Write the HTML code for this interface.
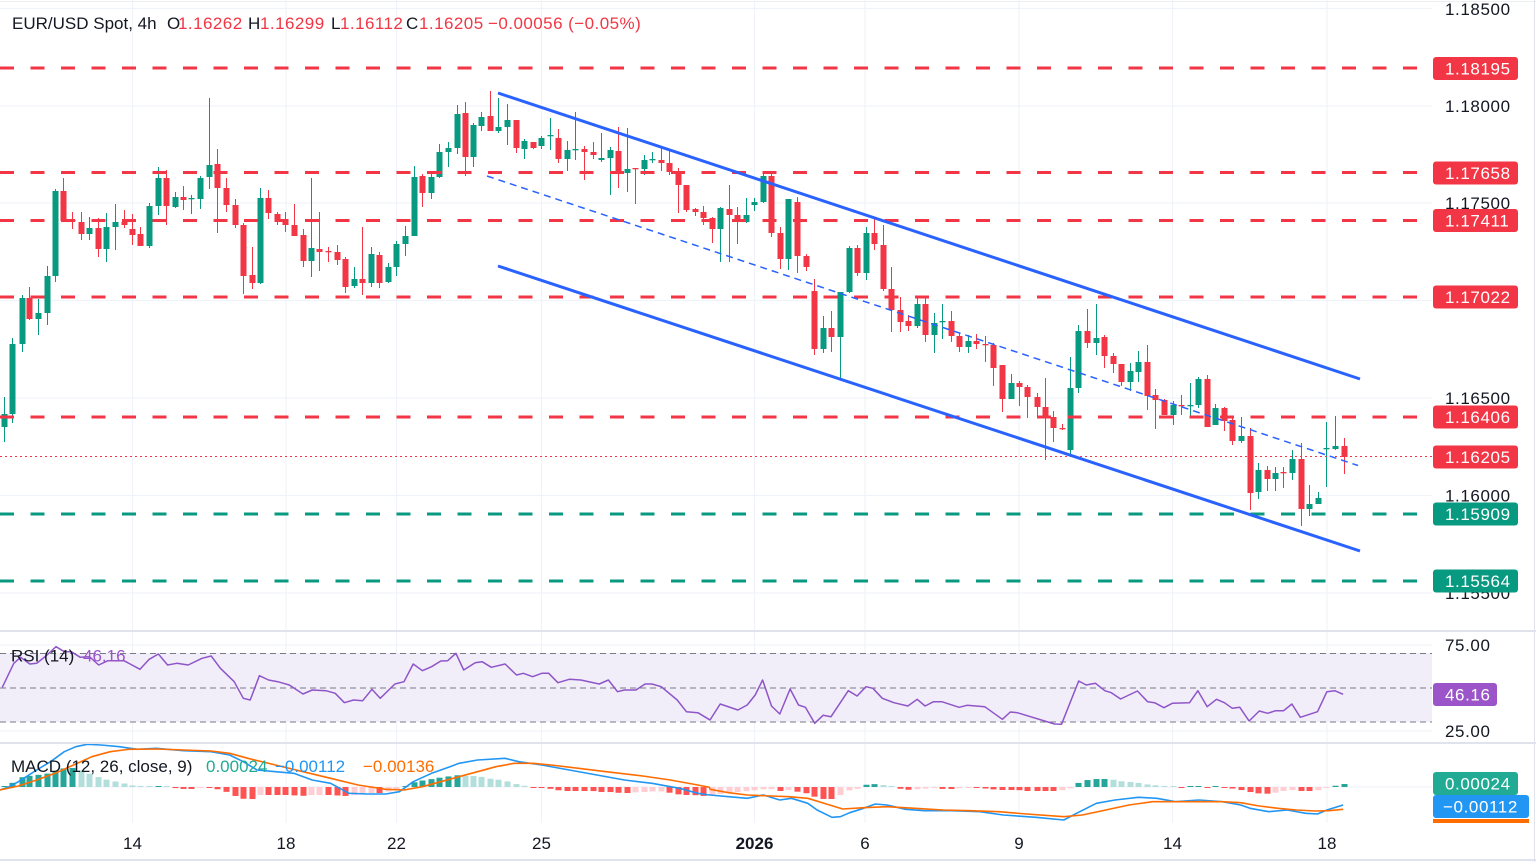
<!DOCTYPE html>
<html><head><meta charset="utf-8"><style>
html,body{margin:0;padding:0;background:#fff;}
svg{display:block;font-family:"Liberation Sans",Arial,sans-serif;}
</style></head><body>
<svg id="s" width="1536" height="862" viewBox="0 0 1536 862" xmlns="http://www.w3.org/2000/svg">
<rect width="1536" height="862" fill="#fff"/>
<line x1="0" y1="1.5" x2="1536" y2="1.5" stroke="#eceef2" stroke-width="1"/>
<!-- grid -->
<g stroke="#f0f3fa" stroke-width="1.2">
<line x1="0" y1="8.5" x2="1432" y2="8.5"/><line x1="0" y1="106" x2="1432" y2="106"/><line x1="0" y1="203" x2="1432" y2="203"/><line x1="0" y1="300.5" x2="1432" y2="300.5"/><line x1="0" y1="398" x2="1432" y2="398"/><line x1="0" y1="495.5" x2="1432" y2="495.5"/><line x1="0" y1="593" x2="1432" y2="593"/>
<line x1="0" y1="645" x2="1432" y2="645"/><line x1="0" y1="731" x2="1432" y2="731"/><line x1="0" y1="787" x2="1432" y2="787"/>
<line x1="132.5" y1="0" x2="132.5" y2="823"/><line x1="286" y1="0" x2="286" y2="823"/><line x1="396.5" y1="0" x2="396.5" y2="823"/><line x1="541.5" y1="0" x2="541.5" y2="823"/><line x1="754.5" y1="0" x2="754.5" y2="823"/><line x1="865" y1="0" x2="865" y2="823"/><line x1="1019" y1="0" x2="1019" y2="823"/><line x1="1172.5" y1="0" x2="1172.5" y2="823"/><line x1="1327" y1="0" x2="1327" y2="823"/>
</g>
<!-- RSI band -->
<rect x="0" y="653" width="1432" height="69" fill="#f2eef9"/>
<g stroke="#787b86" stroke-width="1" stroke-dasharray="6,4">
<line x1="0" y1="653.5" x2="1432" y2="653.5"/><line x1="0" y1="688" x2="1432" y2="688"/><line x1="0" y1="722" x2="1432" y2="722"/>
</g>
<g id="hist"></g>
<g id="candles"></g>
<polyline id="rsi" fill="none" stroke="#8e55c8" stroke-width="1.5" stroke-linejoin="round"/>
<polyline id="macdB" fill="none" stroke="#2196f3" stroke-width="1.6" stroke-linejoin="round"/>
<polyline id="macdO" fill="none" stroke="#ff6d00" stroke-width="1.6" stroke-linejoin="round"/>
<!-- level lines -->
<g stroke-width="3" stroke-dasharray="14,16.5" fill="none">
<line x1="0" y1="68" x2="1432" y2="68" stroke="#f23645"/>
<line x1="0" y1="172.5" x2="1432" y2="172.5" stroke="#f23645"/>
<line x1="0" y1="220.5" x2="1432" y2="220.5" stroke="#f23645"/>
<line x1="0" y1="297" x2="1432" y2="297" stroke="#f23645"/>
<line x1="0" y1="417" x2="1432" y2="417" stroke="#f23645"/>
<line x1="0" y1="514" x2="1432" y2="514" stroke="#089981"/>
<line x1="0" y1="581" x2="1432" y2="581" stroke="#089981"/>
</g>
<line x1="0" y1="456.5" x2="1432" y2="456.5" stroke="#f23645" stroke-width="1" stroke-dasharray="2,3"/>
<!-- trend lines -->
<line x1="498" y1="93" x2="1360" y2="379" stroke="#2962ff" stroke-width="3"/>
<line x1="498" y1="266" x2="1360" y2="551" stroke="#2962ff" stroke-width="3"/>
<line x1="487" y1="176" x2="1358" y2="465.5" stroke="#2962ff" stroke-width="1.5" stroke-dasharray="7,5"/>
<!-- panel separators -->
<rect x="0" y="630" width="1536" height="2" fill="#e0e3eb"/>
<rect x="0" y="742" width="1536" height="2" fill="#e0e3eb"/>
<rect x="0" y="859" width="1536" height="2" fill="#e0e3eb"/>
<line x1="1534.5" y1="0" x2="1534.5" y2="862" stroke="#e0e3eb" stroke-width="1"/>
<!-- header -->
<text x="12" y="29" font-size="17" fill="#131722">EUR/USD Spot, 4h</text>
<text y="29" font-size="17" fill="#131722"><tspan x="167">O</tspan><tspan x="248">H</tspan><tspan x="331">L</tspan><tspan x="406">C</tspan></text>
<text y="29" font-size="17" fill="#f23645" letter-spacing="0.45"><tspan x="178">1.16262</tspan><tspan x="260">1.16299</tspan><tspan x="340">1.16112</tspan><tspan x="419">1.16205</tspan><tspan x="488">−0.00056 (−0.05%)</tspan></text>
<!-- price axis -->
<g font-size="17" fill="#131722" letter-spacing="0.6">
<text x="1445" y="15">1.18500</text>
<text x="1445" y="112">1.18000</text>
<text x="1445" y="209">1.17500</text>
<text x="1445" y="404">1.16500</text>
<text x="1445" y="501.5">1.16000</text>
<text x="1445" y="599">1.15500</text>
<text x="1445" y="651">75.00</text>
<text x="1445" y="737">25.00</text>
</g>
<g>
<rect x="1433" y="57" width="85" height="23" rx="3" fill="#f23645"/>
<rect x="1433" y="161.5" width="85" height="23" rx="3" fill="#f23645"/>
<rect x="1433" y="209" width="85" height="23" rx="3" fill="#f23645"/>
<rect x="1433" y="285.5" width="85" height="23" rx="3" fill="#f23645"/>
<rect x="1433" y="405.5" width="85" height="23" rx="3" fill="#f23645"/>
<rect x="1433" y="445.5" width="85" height="23" rx="3" fill="#f23645"/>
<rect x="1433" y="502.5" width="85" height="23" rx="3" fill="#089981"/>
<rect x="1433" y="569.5" width="85" height="23" rx="3" fill="#089981"/>
<rect x="1433" y="683" width="64" height="23" rx="3" fill="#9c55c9"/>
<rect x="1433" y="819" width="96" height="4" fill="#ff6d00"/>
<rect x="1433" y="772" width="85" height="23" rx="3" fill="#22ab94"/>
<rect x="1433" y="795" width="96" height="23" rx="3" fill="#2196f3"/>
</g>
<g font-size="17" fill="#fff" letter-spacing="0.6">
<text x="1445" y="74.5">1.18195</text>
<text x="1445" y="179">1.17658</text>
<text x="1445" y="226.5">1.17411</text>
<text x="1445" y="303">1.17022</text>
<text x="1445" y="423">1.16406</text>
<text x="1445" y="463">1.16205</text>
<text x="1445" y="520">1.15909</text>
<text x="1445" y="587">1.15564</text>
<text x="1445" y="700.5">46.16</text>
<text x="1445" y="789.5">0.00024</text>
<text x="1443" y="812.5">−0.00112</text>
</g>
<!-- indicator labels -->
<text x="11" y="661.5" font-size="17" fill="#131722">RSI (14)</text>
<text x="83" y="661.5" font-size="17" fill="#9c55c9">46.16</text>
<text x="11" y="772" font-size="17" fill="#131722">MACD (12, 26, close, 9)</text>
<text x="206" y="772" font-size="17" fill="#22ab94">0.00024</text>
<text x="275" y="772" font-size="17" fill="#2196f3">−0.00112</text>
<text x="363" y="772" font-size="17" fill="#ff6d00">−0.00136</text>
<!-- time axis -->
<g font-size="17" fill="#131722" text-anchor="middle">
<text x="132.5" y="849">14</text>
<text x="286" y="849">18</text>
<text x="396.5" y="849">22</text>
<text x="541.5" y="849">25</text>
<text x="754.5" y="849" font-weight="bold">2026</text>
<text x="865" y="849">6</text>
<text x="1019" y="849">9</text>
<text x="1172.5" y="849">14</text>
<text x="1327" y="849">18</text>
</g>
</svg>
<script>
(function(){
var NS='http://www.w3.org/2000/svg';
function el(p,t,a){var e=document.createElementNS(NS,t);for(var k in a)e.setAttribute(k,a[k]);p.appendChild(e);return e;}
var C=[[4,427,397,442,414],[12,414,338,423,344],[22,344,295,352,298],[29,298,287,320,319],[38,319,299,335,313],[47,313,266,325,276],[55,276,189,282,191],[63,191,178,222,221],[72,220,212,229,221],[81,222,212,240,234],[89,234,217,240,228],[98,228,218,257,249],[106,249,213,262,227],[115,227,204,250,222],[124,222,210,228,225],[132,229,214,245,235],[140,234,227,246,246],[149,246,203,248,206],[158,206,167,215,178],[166,178,170,225,206],[175,207,192,208,197],[183,197,186,210,200],[191,199,195,214,198],[200,199,176,209,178],[209,177,98,189,165],[217,164,149,233,188],[226,188,178,212,205],[235,205,199,228,225],[243,225,223,294,276],[252,275,247,289,283],[260,283,188,284,198],[268,198,190,219,213],[277,214,212,225,221],[285,220,212,232,225],[294,225,204,236,236],[303,235,229,267,261],[311,261,178,277,248],[319,249,212,271,252],[328,251,247,262,252],[337,252,245,265,260],[345,259,257,293,287],[354,286,267,288,279],[362,279,227,295,283],[371,283,247,287,254],[379,255,252,288,283],[388,282,263,283,267],[396,267,241,276,244],[405,244,226,256,236],[414,236,166,236,177],[422,176,174,207,193],[431,193,173,199,177],[439,177,144,178,152],[448,152,142,167,148],[457,148,105,154,114],[465,113,102,176,157],[473,157,123,167,125],[481,126,112,131,117],[490,116,91,131,131],[498,131,98,133,127],[507,127,104,145,120],[516,120,120,153,148],[524,149,139,159,141],[533,142,142,149,148],[541,146,136,149,138],[550,136,118,150,135],[558,138,129,163,159],[567,159,141,171,150],[575,150,112,160,149],[584,149,146,180,152],[593,152,142,159,155],[601,160,133,162,158],[610,158,147,195,150],[618,151,127,188,173],[627,173,128,192,169],[635,168,168,204,169],[644,169,155,175,160],[652,160,152,163,159],[661,160,146,171,163],[669,163,149,175,172],[678,171,168,213,185],[686,185,185,212,210],[695,209,208,216,212],[703,212,206,225,218],[712,218,217,243,229],[720,229,207,262,208],[729,209,185,262,215],[737,215,207,244,222],[746,222,198,223,215],[754,205,198,211,202],[763,202,174,203,176],[771,176,174,237,233],[780,233,227,269,259],[788,259,199,270,199],[797,202,197,273,256],[806,256,254,271,267],[814,291,279,355,349],[823,349,316,353,328],[831,328,311,352,337],[840,337,292,379,292],[849,292,246,293,248],[857,248,245,276,273],[866,273,227,280,233],[874,233,217,250,244],[883,245,225,291,289],[891,289,267,332,310],[900,310,297,332,322],[908,321,315,331,326],[917,326,297,328,304],[925,304,297,342,335],[934,335,313,353,323],[942,322,304,339,321],[951,321,311,342,336],[959,336,333,352,347],[968,347,335,353,341],[976,341,334,349,344],[985,344,336,362,345],[993,345,343,386,368],[1002,365,365,412,399],[1011,399,374,399,383],[1019,383,381,406,387],[1027,387,385,418,397],[1037,397,393,416,407],[1045,407,378,460,418],[1053,417,411,442,428],[1062,428,424,430,429],[1070,450,357,454,388],[1078,388,325,393,331],[1087,331,309,348,343],[1096,343,304,355,338],[1104,337,335,368,356],[1113,356,353,373,364],[1121,364,364,386,382],[1130,382,363,391,371],[1138,372,351,382,362],[1147,362,345,410,396],[1155,395,389,429,400],[1164,400,399,415,415],[1173,415,401,425,405],[1181,405,395,415,406],[1190,406,383,416,405],[1198,405,377,408,379],[1207,379,375,427,427],[1215,425,404,425,408],[1224,408,407,431,421],[1232,420,418,445,441],[1241,441,417,443,436],[1250,436,428,510,493],[1258,492,463,499,470],[1267,470,466,491,479],[1275,479,467,491,473],[1283,472,467,488,473],[1292,473,450,480,459],[1301,459,443,526,509],[1309,509,485,516,504],[1318,504,492,504,498],[1326,449,422,487,448],[1335,449,416,450,446],[1344,446,438,474,457]];
var gc=document.getElementById('candles');
C.forEach(function(d){var x=d[0],o=d[1],h=d[2],l=d[3],c=d[4];var col=c<o?'#089981':'#f23645';
el(gc,'rect',{x:x,y:h,width:1,height:Math.max(1,l-h),fill:col});
var top=Math.min(o,c),ht=Math.max(1.3,Math.abs(o-c));
el(gc,'rect',{x:x-2.5,y:top,width:6,height:ht,fill:col});});
function merge(a10,a11){var out=[];a10.forEach(function(p){var x=p[0]/2.178;if(x<710)out.push([x,630+p[1]/3]);});a11.forEach(function(p){out.push([710+p[0]/2.148,630+p[1]/3]);});return out;}
function ptsStr(a){return a.map(function(p){return p[0].toFixed(1)+','+p[1].toFixed(1);}).join(' ');}
var R10=[[5,172],[30,100],[45,82],[65,102],[80,100],[100,78],[122,50],[140,65],[155,65],[175,82],[195,80],[215,105],[235,92],[270,92],[305,118],[325,88],[345,72],[365,105],[385,100],[410,105],[440,85],[460,78],[480,115],[510,155],[530,205],[545,210],[565,137],[585,150],[605,155],[630,165],[660,192],[680,180],[710,182],[730,190],[750,218],[770,210],[790,212],[810,178],[828,205],[860,162],[880,155],[900,102],[920,122],[940,110],[960,93],[975,92],[993,70],[1010,120],[1035,98],[1050,95],[1070,112],[1100,102],[1125,135],[1140,130],[1160,140],[1180,130],[1195,130],[1215,158],[1240,148],[1265,150],[1305,162],[1325,150],[1345,185],[1360,180],[1385,180],[1405,162],[1420,162],[1440,170],[1475,210],[1495,245],[1520,248],[1544,268]];
var R11=[[0,270],[22,222],[60,240],[80,225],[97,195],[113,150],[132,228],[150,252],[172,177],[190,225],[205,232],[225,280],[243,256],[260,260],[297,182],[316,198],[335,170],[350,175],[370,205],[395,218],[425,228],[445,208],[462,228],[480,215],[498,215],[535,232],[552,226],[590,230],[628,268],[645,246],[660,248],[740,282],[755,283],[792,153],[808,165],[828,160],[848,182],[862,188],[882,207],[918,183],[940,215],[955,218],[975,233],[993,220],[1030,218],[1048,182],[1068,230],[1088,208],[1105,218],[1122,235],[1138,232],[1158,273],[1180,243],[1198,250],[1215,242],[1232,242],[1250,222],[1268,262],[1305,245],[1325,185],[1342,182],[1360,193]];
document.getElementById('rsi').setAttribute('points',ptsStr(merge(R10,R11)));
var B10=[[0,480],[20,470],[40,455],[80,420],[110,395],[140,365],[165,350],[190,343],[220,345],[260,350],[300,358],[340,355],[400,362],[460,365],[500,375],[530,395],[560,420],[600,425],[640,430],[680,450],[720,460],[760,490],[800,492],[840,492],[870,485],[900,455],[940,430],[980,410],[1000,400],[1040,390],[1100,385],[1130,395],[1180,405],[1240,420],[1300,435],[1360,450],[1420,460],[1480,475],[1520,490],[1545,495]];
var O10=[[0,480],[40,468],[80,450],[120,430],[160,405],[200,380],[240,365],[280,358],[340,357],[400,360],[460,363],[500,370],[540,385],[600,405],[660,425],[720,445],[780,465],[840,478],[880,480],[920,470],[960,455],[1000,440],[1040,425],[1080,410],[1120,400],[1160,400],[1200,405],[1260,415],[1320,425],[1400,438],[1460,450],[1520,465],[1545,472]];
var B11=[[0,495],[40,500],[80,505],[115,495],[150,510],[175,505],[210,520],[230,540],[262,562],[280,560],[300,548],[330,535],[355,522],[380,525],[420,538],[460,542],[520,542],[580,545],[630,555],[700,562],[760,570],[790,548],[830,520],[870,510],[920,502],[960,505],[1000,515],[1050,510],[1100,515],[1140,525],[1160,535],[1200,545],[1240,540],[1280,550],[1305,552],[1325,540],[1360,525]];
var O11=[[0,478],[40,488],[80,495],[130,498],[170,500],[210,505],[250,522],[285,537],[330,533],[380,530],[440,535],[500,540],[560,542],[620,545],[680,552],[760,560],[800,555],[850,540],[900,525],[950,515],[1000,515],[1050,515],[1100,515],[1140,518],[1180,528],[1220,535],[1260,540],[1300,543],[1330,542],[1360,538]];
document.getElementById('macdB').setAttribute('points',ptsStr(merge(B10,B11)));
document.getElementById('macdO').setAttribute('points',ptsStr(merge(O10,O11)));
var H10=[[20,2],[40,9],[60,11],[80,12],[100,13],[120,16],[140,19],[160,19],[180,16],[200,12],[220,9],[240,6],[260,5],[280,2],[300,1],[320,0.7],[340,1],[360,0.7],[380,-1],[400,-2],[420,-2],[440,-0.5],[460,-1],[480,-3],[500,-6],[520,-11],[545,-13],[565,-8],[585,-8],[605,-8],[630,-8],[655,-9],[680,-8],[700,-8],[720,-8],[750,-9],[770,-8],[790,-6],[810,-6],[830,-6],[850,-4],[870,-2],[890,3],[910,6],[930,7],[950,9],[970,10],[990,12],[1010,11],[1030,11],[1050,10],[1070,8],[1090,7],[1110,5],[1130,2],[1150,0.5],[1170,-1],[1190,-1],[1210,-3],[1230,-4],[1250,-4],[1270,-4],[1290,-4],[1310,-5],[1330,-5],[1350,-6],[1370,-6],[1390,-5],[1410,-5],[1430,-4],[1450,-5],[1470,-7],[1490,-8],[1510,-8],[1530,-9]];
var H11=[[0,-8],[20,-7],[40,-6],[60,-5],[80,-4],[100,-3],[120,-2],[130,-2],[150,-4],[170,-3],[190,-5],[205,-6],[225,-10],[243,-12],[260,-12],[280,-8],[300,-3],[315,-2],[330,2],[350,3],[370,2],[390,0.5],[410,-2],[430,-3],[450,-2],[480,-1],[500,-2],[520,-2],[540,-1],[560,-1],[580,-1],[600,-2],[620,-3],[640,-3],[660,-3],[680,-4],[700,-4],[720,-4],[740,-4],[760,-3],[780,-0.5],[790,4],[810,7],[830,8],[850,8],[870,7],[890,5],[910,5],[930,3],[950,2],[970,1],[990,1],[1010,-1],[1030,0.5],[1050,1],[1070,-1],[1090,0.5],[1110,-1],[1130,-2],[1150,-4],[1170,-6],[1190,-7],[1210,-6],[1230,-4],[1250,-3],[1270,-4],[1290,-4],[1310,-3],[1320,-1],[1340,1],[1360,3]];
var H=[];H10.forEach(function(p){var x=p[0]/2.178;if(x<710)H.push([x,p[1]]);});H11.forEach(function(p){H.push([710+p[0]/2.148,p[1]]);});
function interp(x){if(x<=H[0][0])return H[0][1]*0.5;for(var i=1;i<H.length;i++){if(x<=H[i][0]){var a=H[i-1],b=H[i];var t=(x-a[0])/(b[0]-a[0]);return a[1]+t*(b[1]-a[1]);}}return H[H.length-1][1];}
var gh=document.getElementById('hist');var prev=0;
C.forEach(function(d){var x=d[0];var h=interp(x);var col;
if(h>=0){col=h>=prev?'#26a69a':'#b2dfdb';}else{col=h<=prev?'#ff5252':'#ffcdd2';}
var hh=Math.max(1,Math.abs(h));
el(gh,'rect',{x:x-2.5,y:h>=0?787-hh:787,width:6,height:hh,fill:col});prev=h;});
})();
</script>
</body></html>
